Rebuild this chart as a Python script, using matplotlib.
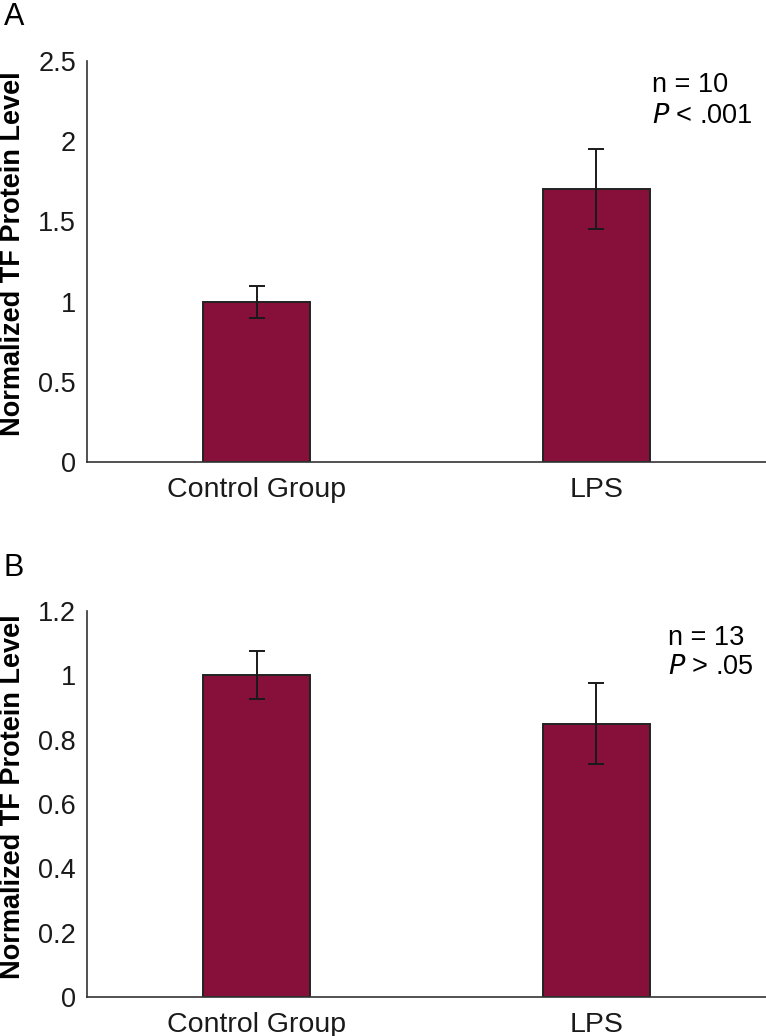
import matplotlib
matplotlib.use("Agg")
import matplotlib.pyplot as plt
from matplotlib.ticker import FuncFormatter

plt.rcParams['font.family'] = ['Liberation Sans', 'DejaVu Sans']

categories = ["Control Group", "LPS"]
means_a = [1.0, 1.7]
errs_a = [0.1, 0.25]
means_b = [1.0, 0.85]
errs_b = [0.075, 0.125]
yticks_a = [0, 0.5, 1, 1.5, 2, 2.5]
yticks_b = [0, 0.2, 0.4, 0.6, 0.8, 1.0, 1.2]

bar_color = "#87103A"
W, H = 766, 1036

fig = plt.figure(figsize=(7.66, 10.36), dpi=100)
axA = fig.add_axes([87 / W, 1 - 462 / H, 1 - 87 / W, (462 - 61) / H])
axB = fig.add_axes([87 / W, 1 - 997 / H, 1 - 87 / W, (997 - 611) / H])

fmt = FuncFormatter(lambda v, p: f"{v:g}")
FS = 19.5

def draw(ax, means, errs, yticks, ymax, ann1, ann2, ann_x, ann_y1, ann_y2):
    x = list(range(len(categories)))
    ax.bar(x, means, width=0.315, color=bar_color, edgecolor="#222222", linewidth=1.4, zorder=2)
    ax.errorbar(x, means, yerr=errs, fmt="none", ecolor="#1a1a1a", elinewidth=1.4,
                capsize=6, capthick=1.4, zorder=3)
    ax.set_xlim(-0.5, 1.5)
    ax.set_ylim(0, ymax)
    ax.set_yticks(yticks)
    ax.yaxis.set_major_formatter(fmt)
    ax.set_xticks(x)
    ax.set_xticklabels(categories)
    ax.tick_params(axis="both", length=0, colors="#1a1a1a")
    ax.tick_params(axis="y", pad=8, labelsize=FS)
    ax.tick_params(axis="x", pad=10.5, labelsize=20.5)
    for s in ["top", "right"]:
        ax.spines[s].set_visible(False)
    for s in ["left", "bottom"]:
        ax.spines[s].set_color("#333333")
        ax.spines[s].set_linewidth(1.2)
    ax.text(ann_x, ann_y1, ann1, transform=fig.transFigure, fontsize=FS, va="center", ha="left")
    ax.text(ann_x, ann_y2, ann2, transform=fig.transFigure, fontsize=FS, va="center", ha="left")

draw(axA, means_a, errs_a, yticks_a, 2.5, "n = 10", r"$\it{P}$ < .001",
     652 / W, 1 - 85 / H, 1 - 116 / H)
draw(axB, means_b, errs_b, yticks_b, 1.2, "n = 13", r"$\it{P}$ > .05",
     668 / W, 1 - 638 / H, 1 - 667 / H)

ylab = "Normalized TF Protein Level"
fig.text(13 / W, 1 - 254 / H, ylab, rotation=90, fontsize=19.5,
         fontweight="bold", ha="center", va="center")
fig.text(13 / W, 1 - 797 / H, ylab, rotation=90, fontsize=19.5,
         fontweight="bold", ha="center", va="center")

fig.text(4 / W, 1 - 17 / H, "A", fontsize=22, va="center", ha="left")
fig.text(4 / W, 1 - 568 / H, "B", fontsize=22, va="center", ha="left")

fig.savefig("out.png", dpi=100)
